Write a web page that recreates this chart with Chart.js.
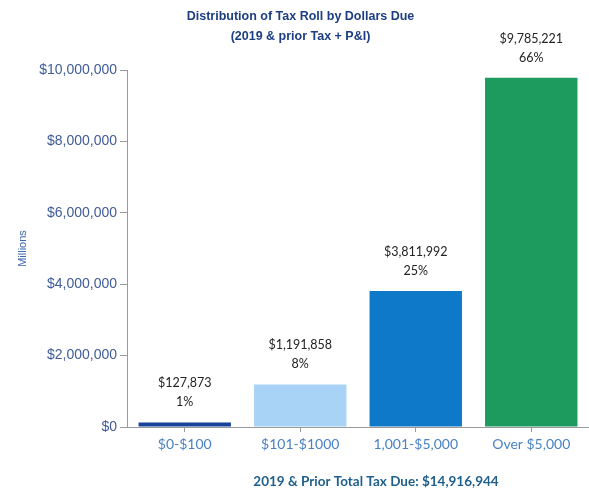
<!DOCTYPE html>
<html>
<head>
<meta charset="utf-8">
<script src="https://cdn.jsdelivr.net/npm/chart.js@4.4.1/dist/chart.umd.min.js"></script>
<style>
  html, body { margin: 0; padding: 0; background: #fff; }
  canvas { display: block; }
</style>
</head>
<body>
<canvas id="taxChart" width="589" height="491"></canvas>
<script>
// chart data
const CATEGORIES = ['$0-$100', '$101-$1000', '1,001-$5,000', 'Over $5,000'];
const DOLLARS_DUE = [127873, 1191858, 3811992, 9785221];
const PERCENTS = ['1%', '8%', '25%', '66%'];
const BAR_COLORS = ['#15439a', '#a9d3f6', '#0d79c8', '#1d9a5d'];
const Y_TICKS = [0, 2000000, 4000000, 6000000, 8000000, 10000000];
const TITLE_LINES = ['Distribution of Tax Roll by Dollars Due', '(2019 & prior Tax + P&I)'];
const FOOTER_TEXT = '2019 & Prior Total Tax Due: $14,916,944';

function money(v) {
    return '$' + v.toLocaleString('en-US');
}

// draws "$value / pct" above each bar
const barLabels = {
    id: 'barLabels',
    afterDatasetsDraw(chart) {
        const ctx = chart.ctx;
        const meta = chart.getDatasetMeta(0);
        ctx.save();
        ctx.font = '12.5px Lato';
        ctx.fillStyle = '#222222';
        ctx.textAlign = 'center';
        ctx.textBaseline = 'middle';
        meta.data.forEach((bar, i) => {
            ctx.fillText(money(DOLLARS_DUE[i]), bar.x, bar.y - 39);
            ctx.fillText(PERCENTS[i], bar.x, bar.y - 20);
        });
        ctx.restore();
    }
};

// the total line under the axis
const footer = {
    id: 'footer',
    afterDraw(chart) {
        const ctx = chart.ctx;
        ctx.save();
        ctx.font = 'bold 13.5px Lato';
        ctx.fillStyle = '#1f5f8c';
        ctx.textAlign = 'center';
        ctx.textBaseline = 'middle';
        ctx.fillText(FOOTER_TEXT, 376, 482);
        ctx.restore();
    }
};

const chart = new Chart(document.getElementById('taxChart'), {
    type: 'bar',
    data: {
        labels: CATEGORIES,
        datasets: [{
            data: DOLLARS_DUE,
            backgroundColor: BAR_COLORS,
            borderWidth: 0,
            categoryPercentage: 0.8,
            barPercentage: 1.0
        }]
    },
    plugins: [barLabels, footer],
    options: {
        responsive: false,
        animation: false,
        layout: { padding: { left: 12, right: 0, top: 0, bottom: 0 } },
        plugins: {
            legend: { display: false },
            tooltip: { enabled: false },
            title: {
                display: true,
                text: TITLE_LINES,
                color: '#1d3e82',
                font: { family: 'Liberation Sans', size: 12.5, weight: 'bold', lineHeight: 1.6 },
                padding: { top: 7, bottom: 23 }
            }
        },
        scales: {
            x: {
                afterFit: (axis) => { axis.height = 64; },
                grid: { display: true, drawOnChartArea: false, offset: false, tickLength: 5, color: '#9a9a9a' },
                border: { display: true, color: '#9a9a9a' },
                ticks: {
                    color: '#4a82c4',
                    padding: 4,
                    font: { family: 'Lato', size: 14 }
                }
            },
            y: {
                min: 0,
                max: 10000000,
                afterFit: (axis) => { axis.width = 115; },
                afterBuildTicks: (axis) => { axis.ticks = Y_TICKS.map(v => ({ value: v })); },
                grid: { display: true, drawOnChartArea: false, tickLength: 7, color: '#9a9a9a' },
                border: { display: true, color: '#9a9a9a' },
                title: {
                    display: true,
                    text: 'Millions',
                    color: '#3b67b0',
                    font: { family: 'Liberation Sans', size: 11 },
                    padding: { top: 4, bottom: 0 }
                },
                ticks: {
                    color: '#3f5c98',
                    padding: 3,
                    font: { family: 'Liberation Sans', size: 14 },
                    callback: (v) => money(v)
                }
            }
        }
    }
});
</script>
</body>
</html>
